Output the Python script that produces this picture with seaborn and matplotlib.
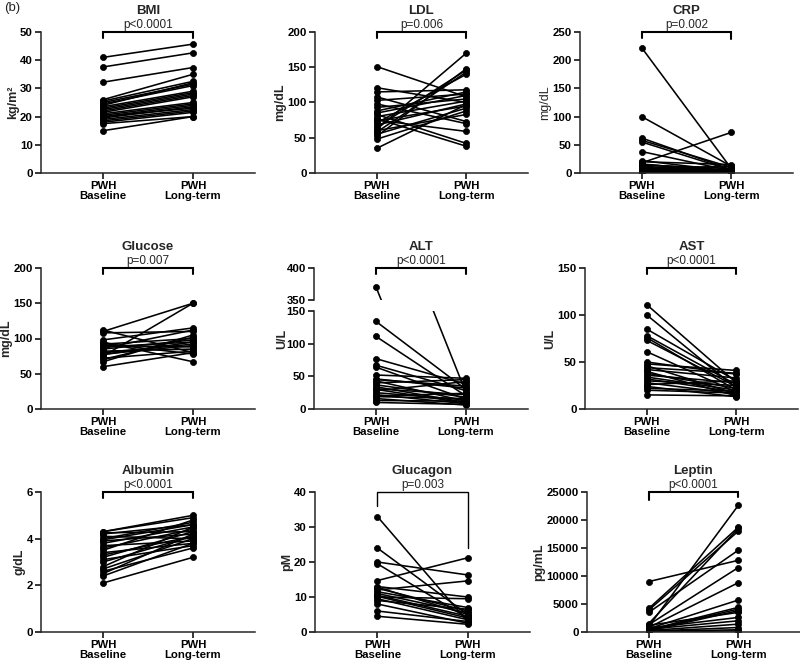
import numpy as np
import pandas as pd
import matplotlib
matplotlib.use("Agg")
import matplotlib.pyplot as plt
import seaborn as sns

# ---- data ----
groups = ["PWH\nBaseline", "PWH\nLong-term"]

bmi_base = [41, 37.6, 32.2, 26, 25.5, 25, 24.5, 24, 23.5, 23, 22.5, 22, 21.5, 21, 20.5, 20, 20, 19.5, 19, 18.5, 18, 17.5, 15]
bmi_long = [45.7, 42.6, 37.4, 35, 32.5, 31.5, 31, 32, 29, 28.5, 28, 27.5, 27, 25, 24.5, 24, 23, 23.5, 22.5, 22, 21.5, 20, 20]

ldl_base = [151, 121, 115, 108, 103, 98, 93, 88, 83, 80, 77, 74, 71, 68, 65, 62, 58, 55, 52, 48, 35, 85, 75, 60]
ldl_long = [108, 100, 118, 73, 112, 70, 105, 115, 42, 102, 38, 95, 140, 98, 146, 170, 143, 92, 148, 88, 97, 110, 59, 83]

crp_base = [222, 100, 62, 58, 55, 38, 22, 20, 18, 16, 15, 14, 12, 10, 8, 6, 5, 4, 3, 2, 2, 1, 7]
crp_long = [8, 12, 6, 10, 5, 4, 3, 15, 72, 2, 5, 8, 3, 2, 12, 4, 1, 3, 2, 1, 6, 2, 5]

glu_base = [112, 110, 108, 98, 95, 92, 90, 88, 85, 82, 80, 78, 75, 72, 70, 67, 60, 86, 93, 77]
glu_long = [80, 150, 110, 115, 67, 100, 88, 95, 98, 85, 92, 90, 150, 82, 102, 105, 80, 112, 78, 95]

alt_base = [370, 134, 111, 77, 67, 64, 52, 46, 43, 40, 37, 34, 31, 28, 25, 22, 19, 16, 13, 10, 45, 30, 20]
alt_long = [25, 30, 20, 38, 28, 15, 47, 32, 12, 45, 18, 10, 22, 42, 14, 8, 16, 6, 12, 7, 35, 9, 24]

ast_base = [111, 100, 85, 78, 76, 73, 61, 50, 48, 46, 44, 42, 40, 38, 36, 34, 32, 30, 28, 26, 24, 22, 20, 15]
ast_long = [28, 22, 30, 26, 20, 24, 18, 37, 41, 16, 38, 33, 14, 22, 28, 20, 18, 25, 16, 30, 13, 19, 17, 14]

alb_base = [4.3, 4.25, 4.2, 4.1, 4.0, 3.9, 3.8, 3.7, 3.6, 3.5, 3.4, 3.3, 3.2, 3.1, 2.8, 2.7, 2.6, 2.5, 2.4, 2.1, 4.3, 3.95, 3.0]
alb_long = [4.9, 4.3, 4.6, 4.0, 4.7, 4.2, 4.5, 3.9, 4.4, 4.8, 3.8, 4.1, 4.3, 3.7, 4.5, 4.0, 3.6, 4.2, 3.8, 3.2, 5.0, 4.6, 4.1]

gcg_base = [33, 24, 20, 19.5, 14.7, 13, 12.5, 12, 11.5, 11, 10.5, 10, 9.5, 9, 8, 6, 4.5, 12.8, 10.2]
gcg_long = [3, 5, 16.3, 4, 21.2, 10, 6, 14.6, 7, 5.5, 4.5, 9.5, 3.5, 6.5, 2.5, 3, 2.2, 5, 4]

lep_base = [9000, 4200, 3900, 3500, 1500, 1300, 1000, 800, 600, 400, 300, 200, 100, 1200, 700, 500, 250, 150, 50]
lep_long = [12800, 18700, 18000, 14600, 18500, 11500, 22600, 8800, 5700, 4400, 4100, 3800, 400, 3500, 2600, 2000, 1400, 800, 200]

# ---- style ----
sns.set_style("ticks")
plt.rcParams["font.family"] = ["Liberation Sans", "DejaVu Sans"]
plt.rcParams["axes.linewidth"] = 1.1

W, H = 800, 665
fig = plt.figure(figsize=(W / 100, H / 100), dpi=100)


def rect(l, t, r, b):
    return [l / W, 1 - b / H, (r - l) / W, (b - t) / H]


def long_df(base, post):
    n = len(base)
    return pd.DataFrame({
        "subject": list(range(n)) * 2,
        "time": [0] * n + [1] * n,
        "value": list(base) + list(post),
    })


def draw_lines(ax, base, post):
    sns.lineplot(data=long_df(base, post), x="time", y="value", units="subject",
                 estimator=None, color="black", marker="o", markersize=4.4,
                 markeredgecolor="black", markeredgewidth=0.5, linewidth=1.15,
                 ax=ax, legend=False)


def style_axis(ax, ylim, yticks, ylabel, label_bold=True):
    ax.set_xlim(-0.69, 1.69)
    ax.set_ylim(*ylim)
    ax.set_yticks(yticks)
    ax.set_xticks([0, 1])
    ax.set_xticklabels(groups, fontsize=8.2, fontweight="bold", linespacing=1.05)
    ax.set_yticklabels([str(t) for t in yticks], fontsize=8.2, fontweight="bold")
    ax.set_xlabel("")
    ax.set_ylabel(ylabel, fontsize=9, fontweight="bold" if label_bold else "normal", labelpad=1)
    ax.tick_params(length=4, width=1.1, pad=1.8, colors="black")
    sns.despine(ax=ax)


def bracket(ax, top, legl, legr, text, lw=1.5):
    ax.plot([0, 0, 1, 1], [top - legl, top, top, top - legr], color="black",
            lw=lw, clip_on=False, solid_joinstyle="miter")
    ax.annotate(text, xy=(0.5, top), xycoords="data", xytext=(0, 0.8),
                textcoords="offset points", ha="center", va="bottom", fontsize=8.5)


def panel(pos, base, post, ylim, yticks, ylabel, title, ptxt, legs=(0.045, 0.045),
          label_bold=True, blw=1.5):
    ax = fig.add_axes(rect(*pos))
    draw_lines(ax, base, post)
    style_axis(ax, ylim, yticks, ylabel, label_bold)
    span = ylim[1] - ylim[0]
    bracket(ax, ylim[1], legs[0] * span, legs[1] * span, ptxt, lw=blw)
    ax.set_title(title, fontsize=9.5, fontweight="bold", pad=13)
    return ax


panel((41, 32, 255, 173), bmi_base, bmi_long, (0, 50), [0, 10, 20, 30, 40, 50], "kg/m²", "BMI", "p<0.0001")
panel((315, 32, 528, 173), ldl_base, ldl_long, (0, 200), [0, 50, 100, 150, 200], "mg/dL", "LDL", "p=0.006")
panel((580, 32, 793, 173), crp_base, crp_long, (0, 250), [0, 50, 100, 150, 200, 250], "mg/dL", "CRP", "p=0.002",
      legs=(0.045, 0.052), label_bold=False)

panel((41, 268, 255, 409), glu_base, glu_long, (0, 200), [0, 50, 100, 150, 200], "mg/dL", "Glucose", "p=0.007")
panel((585, 268, 798, 409), ast_base, ast_long, (0, 150), [0, 50, 100, 150], "U/L", "AST", "p<0.0001")

panel((41, 492, 255, 632), alb_base, alb_long, (0, 6), [0, 2, 4, 6], "g/dL", "Albumin", "p<0.0001")
panel((315, 492, 530, 632), gcg_base, gcg_long, (0, 40), [0, 10, 20, 30, 40], "pM", "Glucagon", "p=0.003",
      legs=(0.1, 0.4), blw=1.0)
panel((587, 492, 800, 632), lep_base, lep_long, (0, 25000), [0, 5000, 10000, 15000, 20000, 25000], "pg/mL",
      "Leptin", "p<0.0001", legs=(0.06, 0.035))

# ---- ALT with broken y axis ----
ax_top = fig.add_axes(rect(314, 268, 528, 300))
ax_lo = fig.add_axes(rect(314, 311, 528, 409))
for a in (ax_top, ax_lo):
    draw_lines(a, alt_base, alt_long)
style_axis(ax_lo, (0, 150), [0, 50, 100, 150], "")
style_axis(ax_top, (350, 400), [350, 400], "")
ax_top.spines["bottom"].set_visible(False)
ax_top.set_xticks([])
ax_top.set_xticklabels([])
bracket(ax_top, 400, 0.2 * 50, 0.2 * 50, "p<0.0001")
ax_top.set_title("ALT", fontsize=9.5, fontweight="bold", pad=13)
fig.text(282 / W, 1 - 339 / H, "U/L", rotation=90, ha="center", va="center", fontsize=9, fontweight="bold")

fig.text(4 / W, 1 - 8 / H, "(b)", ha="left", va="center", fontsize=9.5)

fig.savefig("out.png", dpi=100)
